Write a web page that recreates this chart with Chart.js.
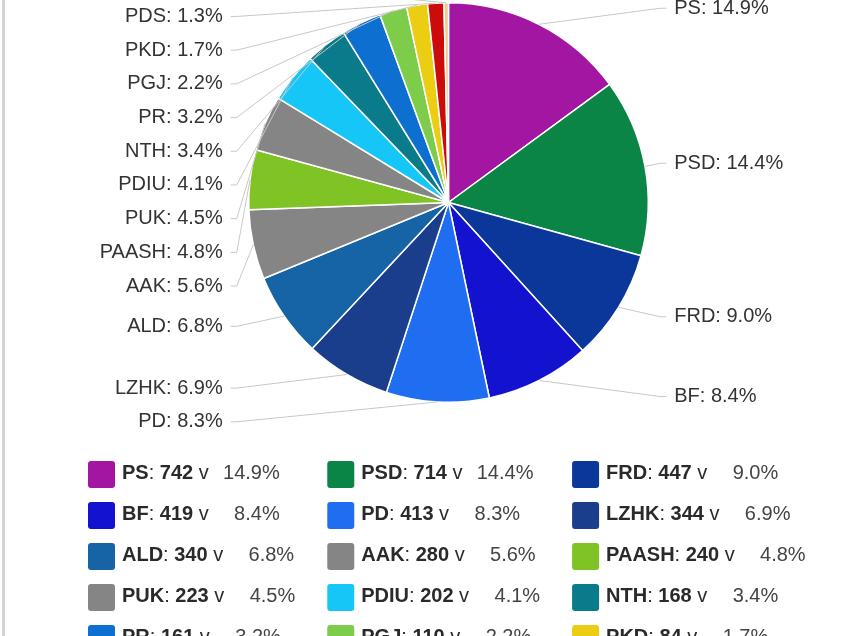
<!DOCTYPE html>
<html>
<head>
<meta charset="utf-8">
<script src="https://cdn.jsdelivr.net/npm/chart.js@4.4.1/dist/chart.umd.min.js"></script>
<style>
  html, body { margin: 0; padding: 0; background: #fff; }
  #wrap { position: relative; width: 850px; height: 636px; overflow: hidden; }
  #wrap::before { content: ''; position: absolute; left: 2px; top: 0; bottom: 0; width: 3px; background: #d4d4d4; }
  #wrap canvas { position: absolute; left: 0; top: 0; }
</style>
</head>
<body>
<div id="wrap"><canvas id="pie" width="850" height="636"></canvas></div>
<script>
// Rezultatet (vota), ne rendin e pjeseve te pites
const parties = ['PS', 'PSD', 'FRD', 'BF', 'PD', 'LZHK', 'ALD', 'AAK', 'PAASH', 'PUK', 'PDIU', 'NTH', 'PR', 'PGJ', 'PKD', 'PDS', 'Tjerë'];
const votes = [742, 714, 447, 419, 413, 344, 340, 280, 240, 223, 202, 168, 161, 110, 84, 65, 18];
const colors = ['#a216a2', '#0b8546', '#0b379a', '#1313cf', '#1f6df0', '#1a3e8c', '#1664a6', '#858585', '#7fc424',
                '#858585', '#16c6f7', '#0a7b8a', '#0d6fcf', '#7dcc4a', '#ebcd12', '#cc0b0b', '#f3c98c'];

const total = votes.reduce((s, v) => s + v, 0);
const pct = votes.map(v => (v / total * 100).toFixed(1));

const FONT = '"Liberation Sans", Arial, sans-serif';
const LABEL_DIST = 18;   // distanca e etiketes nga buza
const LABEL_GAP = 33.7;  // hapesira minimale vertikale midis etiketave

// shperndan etiketat vertikalisht qe te mos mbivendosen (si highcharts)
function distribute(items, minY, maxY) {
    items.sort((a, b) => a.target - b.target);
    const clusters = items.map(it => ({ items: [it] }));
    const place = c => {
        const h = (c.items.length - 1) * LABEL_GAP;
        let top = c.items.reduce((s, it) => s + it.target, 0) / c.items.length - h / 2;
        top = Math.max(minY, Math.min(top, maxY - h));
        c.top = top;
        c.bottom = top + h;
    };
    clusters.forEach(place);
    let merged = true;
    while (merged) {
        merged = false;
        for (let k = 1; k < clusters.length; k++) {
            if (clusters[k].top - clusters[k - 1].bottom < LABEL_GAP) {
                clusters[k - 1].items.push(...clusters[k].items);
                clusters.splice(k, 1);
                place(clusters[k - 1]);
                merged = true;
                break;
            }
        }
    }
    clusters.forEach(c => c.items.forEach((it, k) => { it.y = c.top + k * LABEL_GAP; }));
}

const pieLabels = {
    id: 'pieLabels',
    afterDatasetsDraw(chart) {
        const ctx = chart.ctx;
        const arcs = chart.getDatasetMeta(0).data;
        const left = [], right = [];
        arcs.forEach((arc, i) => {
            const a = (arc.startAngle + arc.endAngle) / 2;
            const r = arc.outerRadius;
            const item = { i, a, x: arc.x, y0: arc.y, r, target: arc.y + (r + LABEL_DIST) * Math.sin(a) };
            (Math.cos(a) < 0 ? left : right).push(item);
        });
        const a0 = arcs[0];
        const minY = a0.y - a0.outerRadius - 20;
        const maxY = a0.y + a0.outerRadius + 40;
        distribute(left, minY, maxY);
        distribute(right, minY, maxY);

        ctx.save();
        ctx.font = '20px ' + FONT;
        ctx.textBaseline = 'middle';
        [[left, -1], [right, 1]].forEach(([items, side]) => {
            items.forEach(it => {
                const anchorX = it.x + side * (it.r + LABEL_DIST);
                const tx = it.x + it.r * Math.cos(it.a), ty = it.y0 + it.r * Math.sin(it.a);
                ctx.beginPath();
                ctx.moveTo(anchorX, it.y);
                ctx.lineTo(anchorX - side * 6, it.y);
                ctx.lineTo(tx, ty);
                ctx.strokeStyle = '#c8c8c8';
                ctx.lineWidth = 1;
                ctx.stroke();

                ctx.fillStyle = '#333333';
                ctx.textAlign = side < 0 ? 'right' : 'left';
                ctx.fillText(`${parties[it.i]}: ${pct[it.i]}%`, anchorX + side * 8, it.y);
            });
        });
        ctx.restore();
    }
};

// legjenda poshte: 3 kolona, emri dhe votat me bold
const votesLegend = {
    id: 'votesLegend',
    afterDraw(chart) {
        const ctx = chart.ctx;
        const startX = 88, startY = 461, rowH = 41, box = 27, textOff = 34, pctW = 71, colGap = 32;
        const bold = '600 20px ' + FONT, normal = '20px ' + FONT;
        ctx.save();
        const parts = parties.map((p, i) => [[p, bold], [': ', normal], [String(votes[i]), bold], [' v', normal]]);
        const widthOf = segs => segs.reduce((w, [t, f]) => { ctx.font = f; return w + ctx.measureText(t).width; }, 0);
        const colW = [0, 0, 0];
        parts.forEach((segs, i) => {
            colW[i % 3] = Math.max(colW[i % 3], textOff + widthOf(segs) + pctW + colGap);
        });
        parts.forEach((segs, i) => {
            const col = i % 3, row = Math.floor(i / 3);
            let x = startX;
            for (let c = 0; c < col; c++) x += colW[c];
            const y = startY + row * rowH;
            ctx.fillStyle = colors[i];
            ctx.beginPath();
            ctx.roundRect(x, y, box, box, 3);
            ctx.fill();
            let tx = x + textOff;
            ctx.textBaseline = 'alphabetic';
            ctx.textAlign = 'left';
            segs.forEach(([t, f]) => {
                ctx.font = f;
                ctx.fillStyle = '#2a2a2a';
                ctx.fillText(t, tx, y + 18);
                tx += ctx.measureText(t).width;
            });
            ctx.font = normal;
            ctx.fillStyle = '#444444';
            ctx.textAlign = 'right';
            ctx.fillText(pct[i] + '%', tx + pctW, y + 18);
        });
        ctx.restore();
    }
};

new Chart(document.getElementById('pie'), {
    type: 'pie',
    data: {
        labels: parties,
        datasets: [{
            data: votes,
            backgroundColor: colors,
            borderColor: '#ffffff',
            borderWidth: 1.5
        }]
    },
    options: {
        responsive: false,
        animation: false,
        layout: { padding: { left: 248, right: 201, top: 2, bottom: 233 } },
        plugins: {
            legend: { display: false },
            tooltip: { enabled: false }
        }
    },
    plugins: [pieLabels, votesLegend]
});
</script>
</body>
</html>
